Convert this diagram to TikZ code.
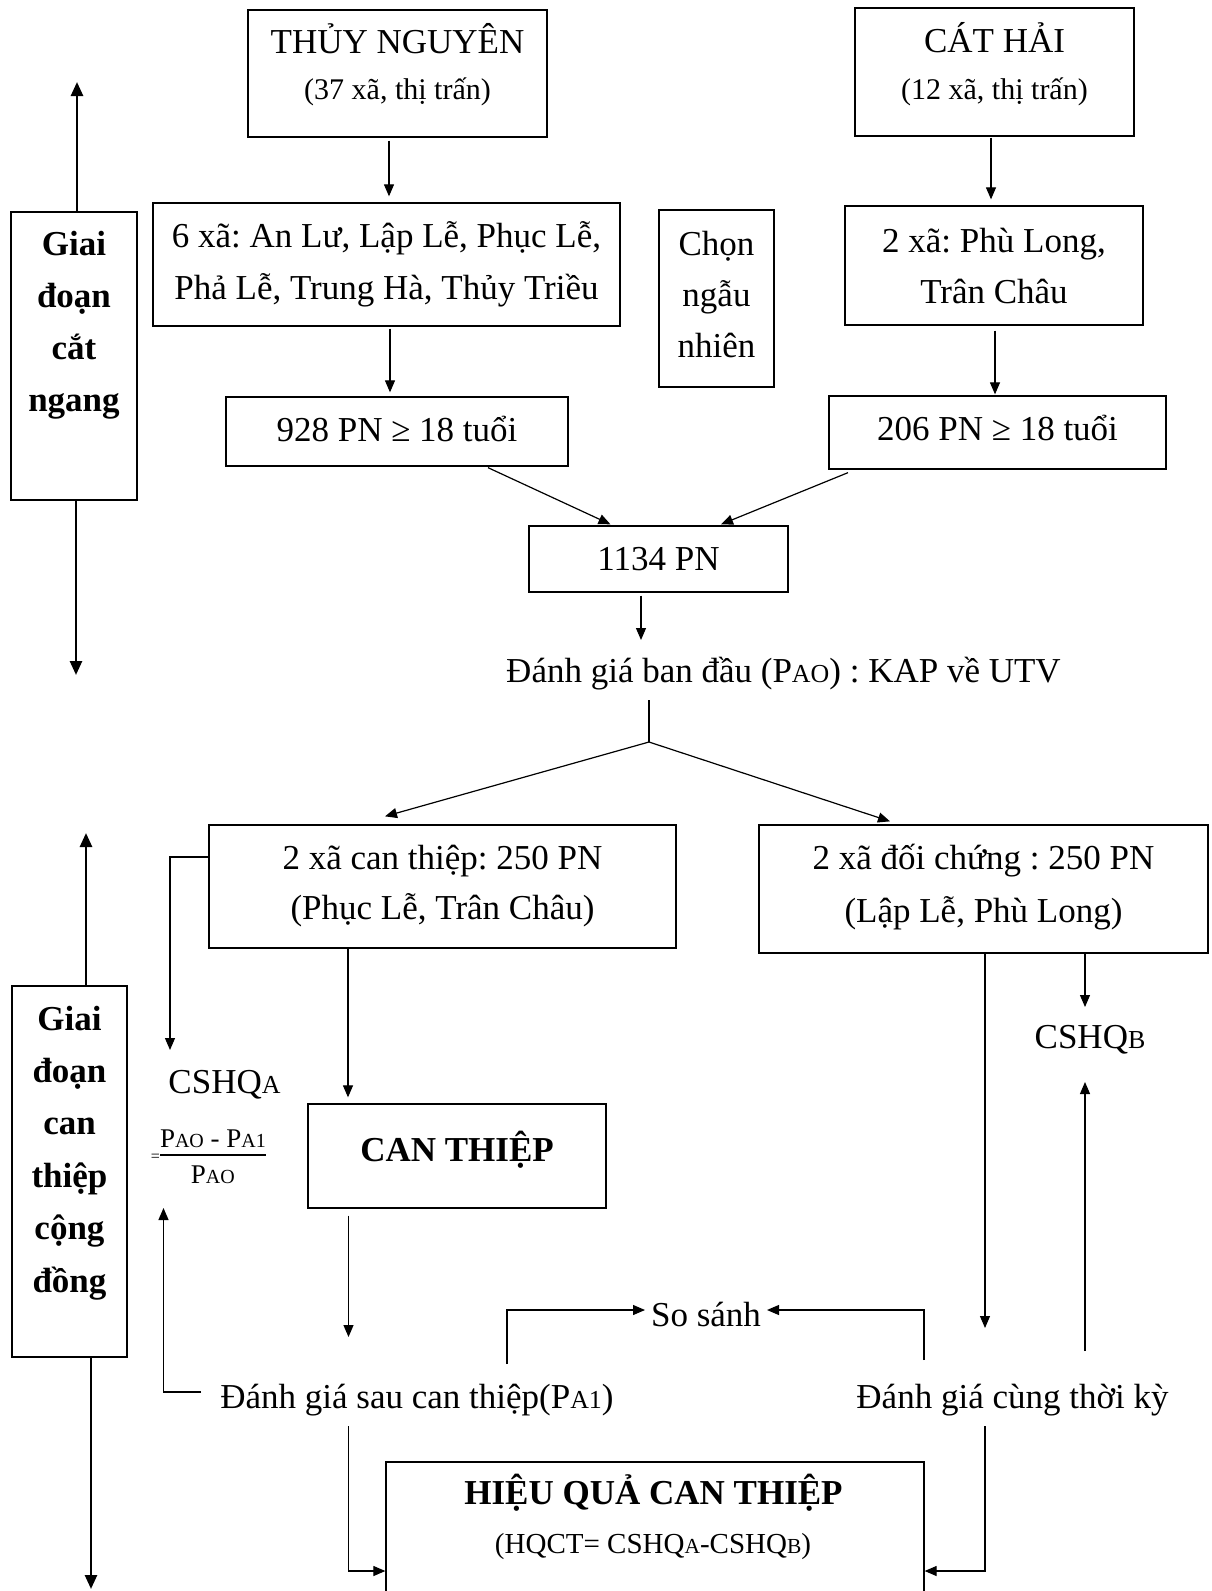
\documentclass[tikz,border=0pt]{standalone}
\usepackage{fontspec}
\setmainfont{Liberation Serif}
\usepackage{graphicx}
\usetikzlibrary{arrows.meta,calc}
\newcommand{\pcap}[1]{\scalebox{0.74}{#1}}
\newcommand{\boxlift}[1]{\rule[-#1]{0pt}{0pt}}
\frenchspacing

\begin{document}
\begin{tikzpicture}[x=1pt, y=-1pt,
        box/.style={draw, line width=1.3pt, align=center, inner sep=0pt,
            font=\fontsize{35}{51}\selectfont},
        bbox/.style={box, font=\bfseries\fontsize{35}{52}\selectfont},
        txt/.style={inner sep=0pt, anchor=base, font=\fontsize{35}{51}\selectfont},
        arr/.style={line width=1.2pt, -{Triangle[length=12pt, width=10pt]}},
        link/.style={line width=1.2pt},
        phase/.style={line width=2.6pt, -{Triangle[length=14pt, width=12pt]}}]
        \path[use as bounding box, fill=white] (0, 0) rectangle (1212, 1591);
        \clip (0, 0) rectangle (1212, 1591);

        % giai doan cat ngang
        \node[bbox, minimum width=126pt, minimum height=288pt] (stageone) at (74, 356)
            {Giai\\đoạn\\cắt\\ngang\boxlift{70pt}};
        \node[box, minimum width=299pt, minimum height=127pt] (tn) at (397.5, 73.5)
            {THỦY NGUYÊN\\[-5pt]{\fontsize{30}{30}\selectfont (37 xã, thị trấn)}\boxlift{24pt}};
        \node[box, minimum width=279pt, minimum height=128pt] (ch) at (994.5, 72)
            {CÁT HẢI\\[-4pt]{\fontsize{30}{30}\selectfont (12 xã, thị trấn)}\boxlift{22pt}};
        \node[box, minimum width=467pt, minimum height=123pt] (sixxa) at (386.5, 264.5)
            {6 xã: An Lư, Lập Lễ, Phục Lễ,\\[1pt]Phả Lễ, Trung Hà, Thủy Triều\boxlift{8.5pt}};
        \node[box, minimum width=115pt, minimum height=177pt] (chon) at (716.5, 298.5)
            {Chọn\\ngẫu\\nhiên\boxlift{9pt}};
        \node[box, minimum width=298pt, minimum height=119pt] (twoxa) at (994, 265.5)
            {2 xã: Phù Long,\\Trân Châu};
        \node[box, minimum width=342pt, minimum height=69pt] (pn928) at (397, 431.5)
            {928 PN ≥ 18 tuổi\boxlift{5.5pt}};
        \node[box, minimum width=337pt, minimum height=73pt] (pn206) at (997.5, 432.5)
            {206 PN ≥ 18 tuổi\boxlift{9.5pt}};
        \node[box, minimum width=259pt, minimum height=66pt] (pn1134) at (658.5, 559) {1134 PN};
        \node[txt] (pa0) at (783.5, 682) {Đánh giá ban đầu (P\pcap{AO}) : KAP về UTV};
        \coordinate (split) at (649, 742);

        % giai doan can thiep cong dong
        \node[bbox, font=\bfseries\fontsize{35}{52.4}\selectfont, minimum width=115pt,
            minimum height=371pt] (stagetwo) at (69.5, 1171.5)
            {Giai\\đoạn\\can\\thiệp\\cộng\\đồng\boxlift{45pt}};
        \node[box, minimum width=467pt, minimum height=123pt] (ct) at (442.5, 886.5)
            {2 xã can thiệp: 250 PN\\[-1pt](Phục Lễ, Trân Châu)};
        \node[box, minimum width=449pt, minimum height=128pt] (dc) at (983.5, 889)
            {2 xã đối chứng : 250 PN\\[2pt](Lập Lễ, Phù Long)\boxlift{10.5pt}};
        \node[txt] (cshqa) at (224.5, 1093) {CSHQ\pcap{A}};
        \node[inner sep=0pt, anchor=east] (ratioa) at (266, 1159)
            {\raisebox{3.5pt}{\fontsize{16}{16}\selectfont =}{\fontsize{27}{32}\selectfont
            \setlength{\arrayrulewidth}{1.2pt}\begin{tabular}{@{}c@{}}P\pcap{AO} - P\pcap{A1}\\[-2.6pt]
            \hline\rule{0pt}{28pt}P\pcap{AO}\end{tabular}}};
        \node[txt] (cshqb) at (1090, 1048) {CSHQ\pcap{B}};
        \node[bbox, minimum width=298pt, minimum height=104pt] (canthiep) at (457, 1156)
            {CAN THIỆP\boxlift{19.5pt}};
        \node[txt] (sosanh) at (706, 1326) {So sánh};
        \node[txt] (sau) at (417, 1408) {Đánh giá sau can thiệp(P\pcap{A1})};
        \node[txt] (cung) at (1012.5, 1408) {Đánh giá cùng thời kỳ};
        \node[draw, line width=1.3pt, minimum width=538pt, minimum height=200pt] (hqct) at (655, 1562) {};
        \node[txt, font=\bfseries\fontsize{35}{51}\selectfont] (hqtitle) at (653.5, 1504) {HIỆU QUẢ CAN THIỆP};
        \node[txt, font=\fontsize{29}{35}\selectfont] (hqformula) at (653, 1553) {(HQCT= CSHQ\pcap{A}-CSHQ\pcap{B})};

        % phase arrows
        \coordinate (stageonetop) at (77, 82);
        \coordinate (stageonebot) at (76, 675);
        \coordinate (stagetwotop) at (86, 833);
        \coordinate (stagetwobot) at (91, 1589);
        \draw[phase] (stageone.north -| stageonetop) -- (stageonetop);
        \draw[phase] (stageone.south -| stageonebot) -- (stageonebot);
        \draw[phase] (stagetwo.north -| stagetwotop) -- (stagetwotop);
        \draw[phase] (stagetwo.south -| stagetwobot) -- (stagetwobot);

        % connectors
        \draw[arr] ($(tn.south)+(-8.5,3)$) -- ($(sixxa.north)+(2.5,-6)$);
        \draw[arr] ($(ch.south)+(-3.5,1)$) -- ($(twoxa.north)+(-3,-6)$);
        \draw[arr] ($(sixxa.south)+(3.5,2)$) -- ($(pn928.north)+(-7,-4)$);
        \draw[arr] ($(twoxa.south)+(1,5)$) -- ($(pn206.north)+(-2.5,-1)$);
        \draw[arr] ($(pn928.south)+(91,1)$) -- ($(pn1134.north)+(-48,-1)$);
        \draw[arr] ($(pn206.south)+(-149.5,3)$) -- ($(pn1134.north)+(62.5,-1)$);
        \draw[arr] ($(pn1134.south)+(-17.5,3)$) -- ($(pa0.base)+(-142.5,-42)$);
        \draw[link] ($(pa0.base)+(-134.5,18)$) -- (split);
        \draw[arr] (split) -- ($(ct.north)+(-57.5,-8)$);
        \draw[arr] (split) -- ($(dc.north)+(-93.5,-3)$);
        \draw[arr] ($(ct.west)+(0,-29.5)$) -| ($(cshqa.base)+(-54.5,-43)$);
        \draw[arr] ($(ct.south)+(-94.5,0)$) -- ($(canthiep.north)+(-109,-6)$);
        \draw[arr] ($(canthiep.south)+(-108.5,7)$) -- ($(sau.base)+(-68.5,-71)$);
        \draw[arr] ($(sau.base)+(-216,-16)$) -| ($(ratioa.east)+(-102.5,49)$);
        \draw[arr] ($(sau.base)+(90,-44)$) |- ($(sosanh.base)+(-61,-16)$);
        \draw[arr] ($(cung.base)+(-88.5,-48)$) |- ($(sosanh.base)+(61,-16)$);
        \draw[arr] ($(dc.south)+(1.5,0)$) -- ($(cung.base)+(-27.5,-80)$);
        \draw[arr] ($(dc.south)+(101.5,0)$) -- ($(cshqb.base)+(-5,-41)$);
        \draw[arr] ($(cung.base)+(72.5,-57)$) -- ($(cshqb.base)+(-5,34)$);
        \draw[arr] ($(sau.base)+(-68.5,18)$) |- ($(hqct.west)+(0,9)$);
        \draw[arr] ($(cung.base)+(-27.5,18)$) |- ($(hqct.east)+(0,9)$);
    \end{tikzpicture}
\end{document}
